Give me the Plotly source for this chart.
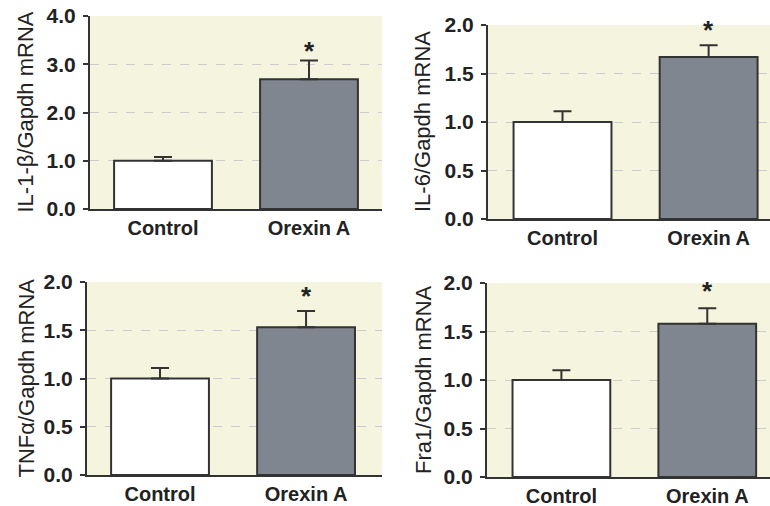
import plotly.graph_objects as go

categories = ["Control", "Orexin A"]
titles = ["IL-1-β/Gapdh mRNA", "IL-6/Gapdh mRNA", "TNFα/Gapdh mRNA", "Fra1/Gapdh mRNA"]
means = [[1.0, 2.69], [1.0, 1.67], [1.0, 1.53], [1.0, 1.58]]
errors = [[0.08, 0.39], [0.11, 0.12], [0.11, 0.17], [0.10, 0.16]]
star_y = [3.27, 1.95, 1.85, 1.92]
y_max = [4.0, 2.0, 2.0, 2.0]
y_dtick = [1.0, 0.5, 0.5, 0.5]

W, H = 770, 506
# pixel boxes (left, right, top, bottom)
boxes = [(90, 382, 16, 209), (488, 770, 25, 219), (87, 382, 282, 475), (487, 770, 283, 477)]
x_ranges = [[-0.5, 1.5], [-0.51, 1.42], [-0.5, 1.52], [-0.51, 1.43]]
title_x = [25, 423, 26, 423]

BG = "#f5f5df"
GRAY = "#80868f"
DARK = "#333333"
FONT = "Liberation Sans, Arial, sans-serif"

fig = go.Figure()
annotations = []
for i in range(4):
    l, r, t, b = boxes[i]
    xa = "x" if i == 0 else f"x{i+1}"
    ya = "y" if i == 0 else f"y{i+1}"
    fig.add_trace(go.Bar(
        x=categories, y=means[i], xaxis=xa, yaxis=ya,
        marker=dict(color=["#ffffff", GRAY], line=dict(color=DARK, width=2)),
        error_y=dict(type="data", array=errors[i], arrayminus=[0, 0], symmetric=False,
                     color=DARK, thickness=2, width=9),
        width=0.67, showlegend=False, hoverinfo="skip",
    ))
    xkey = "xaxis" if i == 0 else f"xaxis{i+1}"
    ykey = "yaxis" if i == 0 else f"yaxis{i+1}"
    fig.update_layout(**{
        xkey: dict(domain=[l / W, r / W], anchor=ya, range=x_ranges[i], automargin=False,
                   showline=True, linecolor=DARK, linewidth=2, ticks="",
                   showgrid=False, zeroline=False,
                   tickfont=dict(family=FONT, size=20, color="#222222", weight="bold")),
        ykey: dict(domain=[1 - b / H, 1 - t / H], anchor=xa, range=[0, y_max[i]],
                   dtick=y_dtick[i], tickformat=".1f", automargin=False,
                   showline=True, linecolor=DARK, linewidth=2,
                   ticks="outside", ticklen=5, tickwidth=2, tickcolor=DARK,
                   ticklabelstandoff=3,
                   showgrid=True, gridcolor="#c9cdd2", griddash="dash", gridwidth=1,
                   zeroline=False,
                   tickfont=dict(family=FONT, size=21, color="#222222", weight="bold")),
    })
    annotations.append(dict(
        x=categories[1], y=star_y[i], xref=xa, yref=ya, text="*", showarrow=False,
        font=dict(family=FONT, size=26, color="#222222", weight="bold"),
        yanchor="middle", xanchor="center"))
    annotations.append(dict(
        x=title_x[i] / W, y=1 - (t + b) / 2 / H, xref="paper", yref="paper",
        text=titles[i], textangle=-90, showarrow=False,
        font=dict(family=FONT, size=22, color="#222222"),
        xanchor="center", yanchor="middle"))

fig.update_layout(
    width=W, height=H, margin=dict(l=0, r=0, t=0, b=0, pad=0, autoexpand=False),
    paper_bgcolor="white", plot_bgcolor=BG,
    annotations=annotations, bargap=0.33,
)
fig.write_html("out.html", config={"displayModeBar": False},
               post_script="document.body.style.margin='0px';")
